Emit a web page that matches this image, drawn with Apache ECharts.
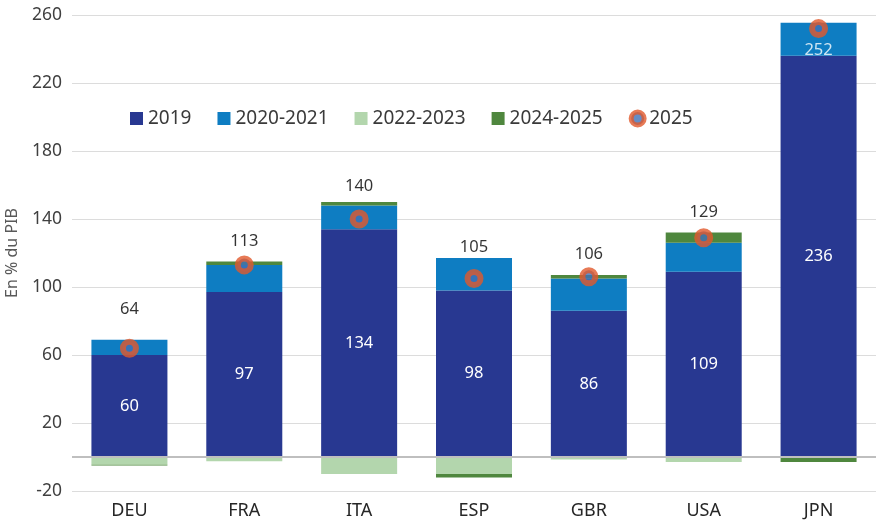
<!DOCTYPE html>
<html>
<head>
<meta charset="utf-8">
<script src="https://cdn.jsdelivr.net/npm/echarts@6/dist/echarts.min.js"></script>
<style>
  html, body { margin: 0; padding: 0; background: #fff; }
  #chart { width: 876px; height: 521px; }
</style>
</head>
<body>
<div id="chart"></div>
<script>
// données (en % du PIB)
const categories = ['DEU', 'FRA', 'ITA', 'ESP', 'GBR', 'USA', 'JPN'];
const debt2019 = [60, 97, 134, 98, 86, 109, 236];
const chg2020_2021 = [9, 16, 14, 19, 19, 17, 19.5];
const chg2022_2023 = [-4.5, -2.5, -10, -10, -1.5, -3, 0];
const chg2024_2025 = [-0.5, 2, 2, -2, 2, 6, -3];
const debt2025 = [64, 113, 140, 105, 106, 129, 252];
const yTicks = [-20, 20, 60, 100, 140, 180, 220, 260];

const fontFamily = '"Noto Sans", sans-serif';

// distance des étiquettes 2025 au point (placées à la main dans l'original)
const labelGap = [21, 6, 15, 13, 5, 7, 4];

const chart = echarts.init(document.getElementById('chart'));

function barSeries(name, data, color) {
    return {
        name: name,
        type: 'bar',
        stack: 'total',
        barWidth: 76,
        itemStyle: { color: color },
        data: data
    };
}

const s2019 = barSeries('2019', debt2019, '#283891');
s2019.label = {
    show: true,
    position: 'inside',
    color: '#fff',
    fontSize: 16.5,
    fontFamily: fontFamily
};
s2019.markLine = {
    silent: true,
    symbol: 'none',
    label: { show: false },
    lineStyle: { color: '#bfbfbf', width: 2, type: 'solid' },
    data: [{ yAxis: 0 }]
};

const points2025 = debt2025.map((v, i) => {
    const last = i === debt2025.length - 1;
    return {
        value: v,
        label: {
            position: last ? 'bottom' : 'top',
            distance: labelGap[i],
            color: last ? '#fff' : '#000'
        }
    };
});

chart.setOption({
    animation: false,
    textStyle: { fontFamily: fontFamily },
    grid: {
        left: 72,
        right: 0,
        top: 15,
        bottom: 30,
        outerBoundsMode: 'none'
    },
    legend: {
        left: 125,
        top: 104,
        itemWidth: 13,
        itemHeight: 13,
        itemGap: 26,
        textStyle: { fontSize: 19, color: '#3a3a3a', fontFamily: fontFamily },
        data: [
            { name: '2019', icon: 'rect' },
            { name: '2020-2021', icon: 'rect' },
            { name: '2022-2023', icon: 'rect' },
            { name: '2024-2025', icon: 'rect' },
            { name: '2025', icon: 'circle', itemStyle: { borderWidth: 5 } }
        ]
    },
    xAxis: {
        type: 'category',
        data: categories,
        axisLine: { show: false, onZero: false },
        axisTick: { show: false },
        axisLabel: {
            color: '#262626',
            fontSize: 18,
            margin: 11,
            fontFamily: fontFamily
        }
    },
    yAxis: {
        type: 'value',
        min: -20,
        max: 260,
        name: 'En % du PIB',
        nameLocation: 'middle',
        nameGap: 52,
        nameTextStyle: { fontSize: 16, color: '#595959', fontFamily: fontFamily },
        axisLine: { show: false },
        axisTick: { show: false, customValues: yTicks },
        axisLabel: {
            customValues: yTicks,
            color: '#404040',
            fontSize: 17.5,
            margin: 10,
            fontFamily: fontFamily
        },
        splitLine: { lineStyle: { color: '#dcdcdc', width: 1 } }
    },
    series: [
        s2019,
        barSeries('2020-2021', chg2020_2021, '#0e7dc2'),
        barSeries('2022-2023', chg2022_2023, '#b3d6ad'),
        barSeries('2024-2025', chg2024_2025, '#4f873e'),
        {
            name: '2025',
            type: 'scatter',
            z: 5,
            symbol: 'circle',
            symbolSize: 13,
            itemStyle: {
                color: '#4070b8',
                borderColor: '#e1592c',
                borderWidth: 6
            },
            label: {
                show: true,
                fontSize: 16.5,
                fontFamily: fontFamily
            },
            data: points2025
        }
    ]
});
</script>
</body>
</html>
